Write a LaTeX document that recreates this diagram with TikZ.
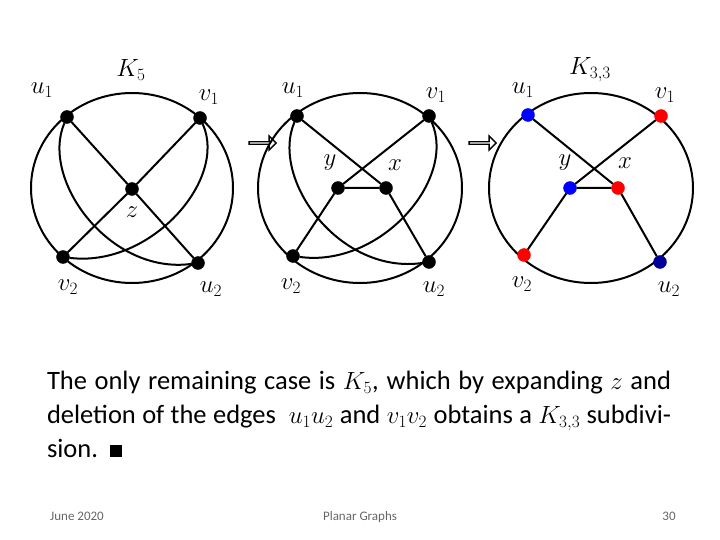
\documentclass[tikz,border=0pt]{standalone}
\usepackage{fontspec}
\setmainfont{Carlito}
\usepackage{amsmath}
\usetikzlibrary{shapes.arrows}

\begin{document}
\begin{tikzpicture}[x=1pt,y=-1pt,line width=2pt]
    % `vertex' is used for the graph nodes, `lbl' for their names.
    \tikzstyle{vertex} = [draw,fill,shape=circle,minimum size=13pt,inner sep=0pt,line width=0.4pt]
    \tikzstyle{lbl} = [font=\fontsize{27}{27}\selectfont]
    \tikzstyle{stepto} = [draw,single arrow,minimum height=27pt,minimum width=14pt,
      single arrow head extend=3pt,inner sep=0pt,line width=1.3pt]
    \tikzstyle{foot} = [anchor=base,text=gray!80!black,font=\fontsize{13}{13}\selectfont]
    \useasboundingbox (0,0) rectangle (720,540);
    %
    % K5
    \draw (132,188) ellipse [x radius=101,y radius=95];
    \node[vertex] (u1a) at (67,117) {};
    \node[vertex] (v1a) at (200,118) {};
    \node[vertex] (za) at (132,189) {};
    \node[vertex] (v2a) at (63,257) {};
    \node[vertex] (u2a) at (198,263) {};
    \draw (u1a) -- (za) -- (u2a) (v1a) -- (za) -- (v2a);
    \draw (u1a) .. controls (40,180) and (110,275) .. (u2a);
    \draw (v1a) .. controls (228,180) and (150,268) .. (v2a);
    \node[lbl] at (131,70) {$K_5$};
    \node[lbl] at (42,90) {$u_1$};
    \node[lbl] at (209,97) {$v_1$};
    \node[lbl] at (132,212) {$z$};
    \node[lbl] at (68,287) {$v_2$};
    \node[lbl] at (211,289) {$u_2$};
    %
    \node[stepto] (s1) at (262,143) {};
    %
    % expanded z
    \draw (360,188) ellipse [x radius=102,y radius=95];
    \node[vertex] (u1b) at (297,116) {};
    \node[vertex] (v1b) at (429,116) {};
    \node[vertex] (yb) at (338,188) {};
    \node[vertex] (xb) at (386,188) {};
    \node[vertex] (v2b) at (293,256) {};
    \node[vertex] (u2b) at (429,262) {};
    \draw (u1b) -- (xb) -- (u2b) (v1b) -- (yb) -- (v2b) (yb) -- (xb);
    \draw (u1b) .. controls (270,180) and (340,275) .. (u2b);
    \draw (v1b) .. controls (457,180) and (380,268) .. (v2b);
    \node[lbl] at (293,90) {$u_1$};
    \node[lbl] at (436,95) {$v_1$};
    \node[lbl] at (330,163) {$y$};
    \node[lbl] at (395,165) {$x$};
    \node[lbl] at (291,286) {$v_2$};
    \node[lbl] at (434,289) {$u_2$};
    %
    \node[stepto] (s2) at (482,143) {};
    %
    % K3,3
    \draw (591,188) ellipse [x radius=102,y radius=95];
    \node[vertex,blue] (u1c) at (528,115) {};
    \node[vertex,red] (v1c) at (661,116) {};
    \node[vertex,blue] (yc) at (570,188) {};
    \node[vertex,red] (xc) at (618,188) {};
    \node[vertex,red] (v2c) at (524,255) {};
    \node[vertex,blue!60!black] (u2c) at (660,262) {};
    \draw (u1c) -- (xc) -- (u2c) (v1c) -- (yc) -- (v2c) (yc) -- (xc);
    \node[lbl] at (590,70) {$K_{3,3}$};
    \node[lbl] at (523,90) {$u_1$};
    \node[lbl] at (665,95) {$v_1$};
    \node[lbl] at (565,163) {$y$};
    \node[lbl] at (625,163) {$x$};
    \node[lbl] at (522,284) {$v_2$};
    \node[lbl] at (669,289) {$u_2$};
    %
    \node[anchor=north west,text width=624pt,align=justify,inner sep=0pt,
      font=\fontsize{26.5}{34}\selectfont] (txt) at (46,370)
      {The only remaining case is $K_5$, which by expanding $z$ and deletion of the edges \ $u_1u_2$ and $v_1v_2$ obtains a $K_{3,3}$ subdivision. \,\rule{12pt}{12pt}};
    %
    \node[foot] (date) at (77,520) {June 2020};
    \node[foot] (title) at (360,520) {Planar Graphs};
    \node[foot] (page) at (669,520) {30};
\end{tikzpicture}
\end{document}
